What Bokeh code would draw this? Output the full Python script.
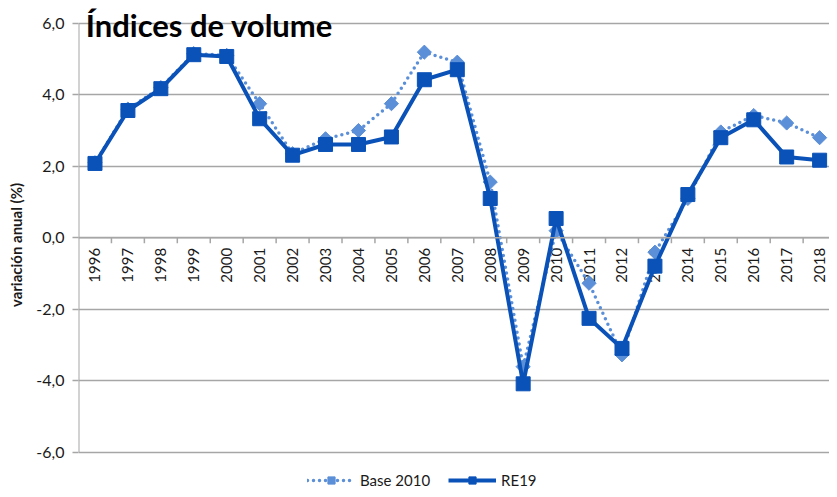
import math
from bokeh.plotting import figure
from bokeh.models import (Range1d, FixedTicker, CustomJSTickFormatter, Label,
                          Legend, LegendItem, ColumnDataSource, Span)
from bokeh.core.properties import value
from bokeh.embed import file_html
from bokeh.resources import INLINE

years = list(range(1996, 2019))
year_labels = [str(y) for y in years]
base2010 = [2.10, 3.60, 4.20, 5.15, 5.10, 3.75, 2.35, 2.77, 3.00, 3.75, 5.19, 4.91,
            1.56, -3.60, 0.20, -1.27, -3.27, -0.40, 1.10, 2.96, 3.42, 3.21, 2.80]
re19 = [2.08, 3.56, 4.17, 5.12, 5.07, 3.33, 2.31, 2.61, 2.61, 2.82, 4.42, 4.70,
        1.10, -4.08, 0.54, -2.25, -3.09, -0.79, 1.21, 2.80, 3.30, 2.26, 2.17]
y_ticks = [-6, -4, -2, 0, 2, 4, 6]
title_text = "Índices de volume"
y_label = "variación anual (%)"

DARK = "#0A52B8"
LIGHT = "#5B8FD8"
GRID = "#A6A6A6"
TXT = "#1a1a1a"

YMIN, YMAX = -6, 6
src = ColumnDataSource(dict(x=years, b=base2010, r=re19, lab=year_labels,
                            y0=[0] * len(years)))

H = 489
PX_PER_UNIT = (452 - 22.7) / (YMAX - YMIN)
ybottom = YMIN - (H - 452) / PX_PER_UNIT
ytop = YMAX + 22.7 / PX_PER_UNIT

p = figure(width=829, height=H, output_backend="svg", toolbar_location=None,
           x_range=Range1d(1995.5, 2018.3), y_range=Range1d(ybottom, ytop),
           min_border_left=78, min_border_right=0, min_border_top=0,
           min_border_bottom=0)
p.outline_line_color = None
p.background_fill_color = "white"
p.border_fill_color = "white"

p.xaxis.visible = False
p.xgrid.visible = False
p.ygrid.grid_line_color = GRID
p.ygrid.grid_line_width = 1.5
p.yaxis.ticker = FixedTicker(ticks=y_ticks)
p.yaxis.formatter = CustomJSTickFormatter(code="return tick.toFixed(1).replace('.', ',');")
p.yaxis.axis_line_color = None
p.yaxis.major_tick_line_color = GRID
p.yaxis.major_tick_line_width = 1.5
p.yaxis.major_tick_out = 6
p.yaxis.major_tick_in = 0
p.yaxis.minor_tick_line_color = None
p.yaxis.major_label_text_font = "Lato"
p.yaxis.major_label_text_font_size = "16px"
p.yaxis.major_label_text_color = TXT
p.yaxis.major_label_standoff = 8
p.yaxis.axis_label = y_label
p.yaxis.axis_label_text_font = "Lato"
p.yaxis.axis_label_text_font_style = "bold"
p.yaxis.axis_label_text_font_size = "15px"
p.yaxis.axis_label_text_color = TXT
p.yaxis.axis_label_standoff = 8

# vertical axis line from -6 to 6 at the left frame edge
p.segment(x0=[1995.5], y0=[YMIN], x1=[1995.5], y1=[YMAX], line_color=GRID,
          line_width=2, line_cap="butt")

# zero line with category ticks
p.add_layout(Span(location=0, dimension="width", line_color=GRID, line_width=1.5))
edges = [y + 0.5 for y in years]
p.segment(x0=edges, y0=[0] * len(edges), x1=edges, y1=[-0.15] * len(edges),
          line_color=GRID, line_width=1.5)
p.text(x="x", y="y0", text="lab", source=src, angle=math.pi / 2, y_offset=10,
       text_align="right", text_baseline="middle", text_font=value("Lato"),
       text_font_size="15px", text_color=TXT)

lb = p.line("x", "b", source=src, line_color=LIGHT, line_width=3.5,
            line_dash="0 6", line_cap="round")
mb = p.scatter("x", "b", source=src, marker="square", size=10, angle=math.pi / 4,
               fill_color=LIGHT, line_color=LIGHT)
lr = p.line("x", "r", source=src, line_color=DARK, line_width=4)
mr = p.scatter("x", "r", source=src, marker="square", size=14,
               fill_color=DARK, line_color=DARK)

p.add_layout(Label(x=1995.72, y=5.95, text=title_text, text_font="Lato",
                   text_font_style="bold", text_font_size="31px",
                   text_color="#000000", text_baseline="alphabetic"))

legend = Legend(items=[LegendItem(label="Base 2010", renderers=[lb, mb]),
                       LegendItem(label="RE19", renderers=[lr, mr])],
                orientation="horizontal", location=(229, 0),
                glyph_width=48, glyph_height=18, label_standoff=5, spacing=18,
                padding=0, margin=0, border_line_color=None,
                background_fill_alpha=0, label_text_font="Lato",
                label_text_font_size="15px", label_text_color=TXT)
p.add_layout(legend, "center")

open("out.html", "w").write(file_html(p, INLINE))
